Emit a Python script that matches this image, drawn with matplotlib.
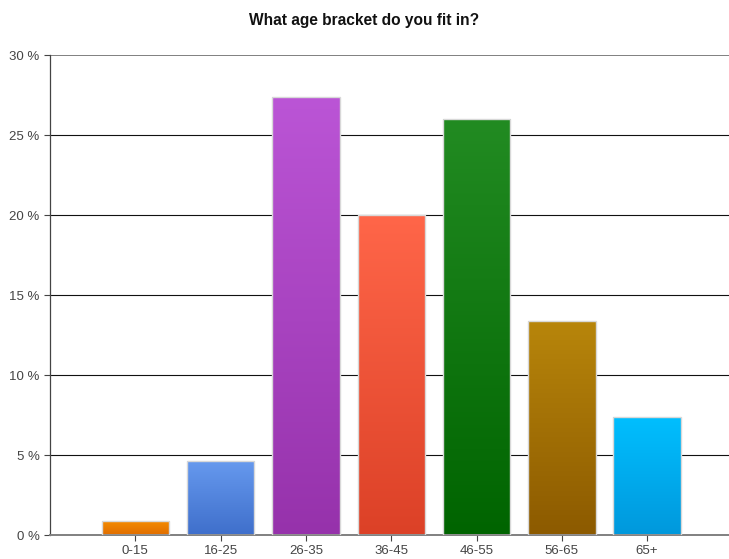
import numpy as np
import matplotlib.pyplot as plt
from matplotlib.colors import LinearSegmentedColormap

plt.rcParams['font.family'] = ['Liberation Sans', 'DejaVu Sans']

# age brackets and share of respondents (%)
brackets = ['0-15', '16-25', '26-35', '36-45', '46-55', '56-65', '65+']
shares = [0.9, 4.6, 27.4, 20.0, 26.0, 13.4, 7.4]
# gradient colours: top, bottom
top_colors = ['#f58c00', '#6699ee', '#bb55d6', '#ff6649', '#228b22', '#b8860b', '#00bfff']
bottom_colors = ['#e06e00', '#3f6fcb', '#9632ab', '#dc4127', '#006400', '#8c5a00', '#0098dc']

fig = plt.figure(figsize=(7.29, 5.59), dpi=100)
ax = fig.add_axes([50/729, 24/559, 1 - 50/729, 480/559])

x = np.arange(1, len(brackets) + 1)
bars = ax.bar(x, shares, width=0.79, edgecolor='#d8d8d8', linewidth=1, zorder=3)

# vertical gradient inside each bar
grad = np.linspace(0, 1, 256).reshape(-1, 1)
for b, c1, c2 in zip(bars, top_colors, bottom_colors):
    b.set_facecolor('none')
    cmap = LinearSegmentedColormap.from_list('g', [c2, c1])
    x0, y0 = b.get_x(), b.get_y()
    im = ax.imshow(grad, cmap=cmap, origin='lower', aspect='auto',
                   extent=[x0, x0 + b.get_width(), y0, y0 + b.get_height()], zorder=2)
    im.set_clip_path(b)

ax.set_xlim(0, 7.96)
ax.set_ylim(0, 30)
ax.set_xticks(x)
ax.set_xticklabels(brackets)
yt = [0, 5, 10, 15, 20, 25, 30]
ax.set_yticks(yt)
ax.set_yticklabels([f'{v} %' for v in yt])

for v in yt[1:-1]:
    ax.axhline(v, color='#111111', linewidth=0.8, zorder=1)
ax.axhline(30, color='#808080', linewidth=1.4, zorder=1)

for s in ['top', 'right']:
    ax.spines[s].set_visible(False)
ax.spines['left'].set_color('#444444')
ax.spines['left'].set_linewidth(0.9)
ax.spines['bottom'].set_color('#808080')
ax.spines['bottom'].set_linewidth(1.4)
ax.tick_params(axis='both', direction='out', length=4, colors='#444444',
               labelcolor='#444444', labelsize=9.5)
ax.tick_params(axis='x', pad=3)

fig.text(364/729, 1 - 20/559, 'What age bracket do you fit in?', ha='center', va='center',
         fontsize=11.2, fontweight='bold', color='#111111')

plt.savefig('out.png', dpi=100)
